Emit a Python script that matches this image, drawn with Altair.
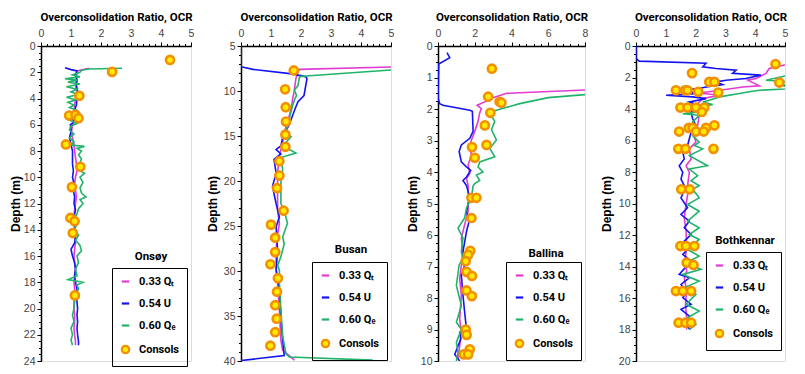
import altair as alt
import pandas as pd

SERIES = ["0.33 Qₜ", "0.54 U", "0.60 Qₑ", "Consols"]
COLORS = ["#E23CD4", "#1414F0", "#20B36A", "#F29000"]

# ---------------- Onsøy ----------------
onsoy_qt_depth = [1.7, 1.9, 2.5, 3.0, 3.5, 4.0, 4.5, 5.0, 5.5, 6.0, 6.5, 7.0, 7.5, 8.0, 8.5, 9.0, 9.5, 10.0, 10.5, 11.0, 11.5, 12.0, 12.5, 13.0, 13.5, 14.0, 14.5, 15.0, 15.5, 16.0, 16.5, 17.0, 17.5, 18.0, 18.5, 19.0, 19.5, 20.0, 20.5, 21.0, 21.5, 22.0, 22.5, 22.8]
onsoy_qt_ocr = [1.6, 1.2, 1.18, 1.15, 1.2, 1.15, 1.12, 1.1, 1.12, 1.05, 1.02, 1.05, 1.1, 1.12, 1.15, 1.18, 1.2, 1.15, 1.12, 1.15, 1.18, 1.15, 1.12, 1.1, 1.12, 1.1, 1.12, 1.15, 1.12, 1.1, 1.12, 1.15, 1.12, 1.1, 1.12, 1.15, 1.12, 1.1, 1.12, 1.12, 1.1, 1.12, 1.15, 1.15]
onsoy_u_depth = [1.65, 1.8, 1.9, 2.2, 2.6, 3.0, 3.5, 4.0, 4.5, 5.0, 5.5, 5.8, 6.0, 6.5, 7.0, 7.5, 8.0, 8.5, 9.0, 9.5, 10.0, 10.5, 11.0, 11.5, 12.0, 12.5, 13.0, 13.5, 14.0, 14.5, 15.0, 15.5, 16.0, 16.5, 17.0, 17.5, 18.0, 18.5, 19.0, 19.5, 20.0, 20.5, 21.0, 21.5, 22.0, 22.5, 22.8]
onsoy_u_ocr = [0.8, 1.0, 1.2, 1.15, 1.2, 1.18, 1.22, 1.2, 1.18, 1.1, 1.05, 1.1, 0.98, 1.0, 0.95, 1.0, 1.05, 1.05, 1.05, 1.08, 1.05, 1.1, 1.08, 1.12, 1.1, 1.15, 1.1, 1.15, 1.12, 1.15, 1.12, 1.0, 1.05, 1.12, 1.15, 1.12, 1.15, 1.2, 1.18, 1.2, 1.22, 1.2, 1.22, 1.2, 1.22, 1.25, 1.25]
onsoy_qe_depth = [1.7, 1.75, 1.85, 2.0, 2.2, 2.35, 2.5, 2.6, 2.75, 2.9, 3.1, 3.3, 3.5, 3.7, 3.9, 4.1, 4.3, 4.5, 4.7, 4.9, 5.1, 5.3, 5.6, 5.9, 6.1, 6.4, 6.7, 7.0, 7.3, 7.55, 7.65, 7.8, 8.0, 8.3, 8.6, 8.9, 9.2, 9.5, 9.7, 10.0, 10.4, 10.8, 11.2, 11.5, 11.7, 12.0, 12.4, 12.8, 13.2, 13.6, 14.0, 14.4, 14.8, 15.2, 15.6, 16.0, 16.5, 17.0, 17.5, 17.8, 18.0, 18.2, 18.5, 19.0, 19.5, 20.0, 20.5, 21.0, 21.5, 22.0, 22.4, 22.8]
onsoy_qe_ocr = [2.7, 1.6, 1.35, 1.3, 1.05, 1.3, 0.8, 1.2, 0.9, 1.3, 0.85, 1.2, 1.0, 1.25, 0.85, 1.15, 0.9, 1.1, 0.95, 1.2, 1.0, 1.15, 0.9, 1.2, 1.0, 0.95, 1.1, 0.95, 1.1, 1.0, 1.45, 1.2, 1.35, 1.25, 1.35, 1.3, 1.4, 1.3, 1.45, 1.3, 1.4, 1.3, 1.35, 1.5, 1.3, 1.4, 1.25, 1.2, 1.1, 1.2, 1.1, 1.25, 1.15, 1.3, 1.35, 1.2, 1.25, 1.15, 1.2, 0.9, 1.4, 1.2, 1.25, 1.15, 1.1, 1.1, 1.05, 1.1, 1.0, 1.05, 1.0, 1.05]
onsoy_cons_depth = [1.06, 1.97, 3.79, 5.3, 5.25, 5.5, 7.5, 9.2, 10.75, 13.1, 13.35, 14.25, 19.0]
onsoy_cons_ocr = [4.3, 2.37, 1.28, 0.94, 1.15, 1.25, 0.83, 1.31, 1.03, 0.98, 1.12, 1.06, 1.13]

# ---------------- Busan ----------------
busan_qt_depth = [7.3, 7.6, 7.9, 8.6, 9.9, 10.9, 12.0, 13.5, 14.6, 15.7, 17.2, 19.1, 21.0, 23.3, 24.7, 25.9, 27.7, 29.6, 31.4, 34.4, 37.7, 38.8, 39.9]
busan_qt_ocr = [5.3, 1.95, 1.9, 1.83, 1.78, 1.72, 1.67, 1.55, 1.44, 1.39, 1.28, 1.22, 1.22, 1.22, 1.28, 1.22, 1.17, 1.17, 1.22, 1.28, 1.33, 1.39, 1.78]
busan_u_depth = [5.0, 7.3, 7.6, 8.1, 8.4, 8.6, 10.5, 11.2, 12.0, 13.8, 15.0, 16.1, 16.5, 17.0, 17.6, 19.1, 20.6, 22.5, 24.0, 25.1, 27.7, 29.9, 32.1, 35.1, 37.7, 39.4, 39.95]
busan_u_ocr = [0.0, 0.0, 0.4, 1.7, 2.15, 2.2, 2.1, 1.9, 1.8, 1.6, 1.4, 1.33, 1.17, 1.33, 1.1, 1.17, 1.05, 1.17, 1.28, 1.17, 1.22, 1.17, 1.28, 1.33, 1.39, 1.44, 0.0]
busan_qe_depth = [7.6, 8.3, 8.4, 9.4, 9.9, 10.5, 11.0, 11.6, 13.1, 14.6, 15.1, 15.7, 16.5, 16.9, 17.4, 18.7, 20.2, 21.8, 22.5, 23.3, 24.7, 26.2, 27.0, 28.4, 29.4, 29.9, 31.4, 34.4, 37.3, 39.2, 39.55, 39.9]
busan_qe_ocr = [5.3, 2.28, 1.95, 1.9, 1.78, 1.85, 1.78, 1.72, 1.61, 1.5, 1.67, 1.5, 1.61, 1.83, 1.33, 1.39, 1.33, 1.33, 1.33, 1.44, 1.55, 1.39, 1.44, 1.33, 1.22, 1.28, 1.28, 1.33, 1.39, 1.5, 1.61, 4.39]
busan_cons_depth = [7.72, 9.81, 11.8, 13.4, 14.85, 16.2, 17.8, 19.4, 20.8, 23.3, 24.85, 26.3, 27.9, 29.25, 30.8, 32.3, 33.8, 35.3, 36.8, 38.3]
busan_cons_ocr = [1.76, 1.47, 1.49, 1.5, 1.48, 1.48, 1.28, 1.28, 1.2, 1.42, 1.0, 1.14, 1.14, 0.98, 1.23, 1.2, 1.14, 1.19, 1.14, 0.98]

# ---------------- Ballina ----------------
ballina_qt_depth = [1.39, 1.5, 1.64, 1.75, 1.88, 1.99, 2.12, 2.39, 2.71, 2.98, 3.19, 3.46, 3.78, 4.05, 4.21, 4.43, 4.7, 5.25, 5.67, 6.1, 6.53, 6.96, 7.38, 7.92, 8.67, 9.09, 9.52, 9.95]
ballina_qt_ocr = [8.3, 3.73, 3.0, 2.64, 2.13, 2.36, 2.27, 2.18, 2.0, 1.82, 1.73, 1.82, 1.64, 1.73, 1.55, 1.64, 1.64, 1.64, 1.45, 1.27, 1.36, 1.27, 1.18, 1.27, 1.18, 1.27, 1.18, 1.09]
ballina_u_depth = [0.21, 0.37, 0.57, 1.64, 1.83, 1.88, 2.04, 2.07, 2.71, 2.93, 3.14, 3.35, 3.68, 3.84, 3.95, 4.16, 4.27, 4.43, 4.82, 5.25, 5.57, 5.89, 6.53, 6.96, 7.28, 7.92, 8.45, 8.99, 9.09, 9.3, 9.79, 10.0]
ballina_u_ocr = [0.49, 0.64, 0.04, 0.0, 0.09, 0.27, 1.73, 1.87, 1.91, 1.73, 1.27, 1.15, 1.27, 1.55, 1.78, 1.55, 1.36, 1.55, 1.73, 1.55, 1.69, 1.55, 1.36, 1.45, 1.27, 1.36, 1.45, 1.55, 1.18, 1.24, 0.91, 1.18]
ballina_qe_depth = [1.53, 1.59, 1.64, 1.83, 2.01, 2.07, 2.23, 2.39, 2.66, 2.98, 3.25, 3.52, 3.68, 3.84, 4.0, 4.1, 4.27, 4.37, 4.44, 4.82, 5.14, 5.46, 5.78, 6.1, 6.53, 6.74, 6.95, 7.6, 8.24, 8.77, 8.99, 9.41, 9.73, 10.0]
ballina_qe_ocr = [8.3, 7.0, 6.0, 4.45, 3.36, 3.0, 2.91, 3.09, 2.91, 3.18, 2.82, 3.09, 2.27, 2.18, 2.45, 2.09, 2.27, 2.0, 1.91, 1.82, 1.55, 1.45, 1.09, 1.36, 1.27, 1.36, 1.15, 1.0, 1.27, 1.0, 1.27, 1.0, 1.09, 1.0]
ballina_cons_depth = [0.72, 1.61, 1.77, 1.8, 2.12, 2.52, 3.14, 3.21, 3.55, 4.82, 4.82, 5.46, 6.5, 6.63, 6.83, 7.17, 7.3, 7.76, 7.94, 9.0, 9.17, 9.63, 9.79, 9.79]
ballina_cons_ocr = [2.93, 2.73, 3.35, 3.45, 2.85, 2.55, 2.64, 1.85, 2.0, 1.82, 2.09, 1.82, 1.76, 1.64, 1.51, 1.55, 1.85, 1.55, 1.84, 1.51, 1.56, 1.73, 1.4, 1.64]

# ---------------- Bothkennar ----------------
bk_qt_depth = [1.1, 1.21, 1.43, 1.74, 2.06, 2.17, 2.53, 2.6, 2.7, 2.87, 2.98, 3.13, 3.34, 3.77, 4.4, 5.04, 5.47, 6.1, 6.53, 7.17, 7.6, 8.02, 8.87, 9.0, 10.06, 10.9, 11.75, 12.6, 13.45, 14.3, 14.7, 15.56, 16.4, 17.25, 18.0]
bk_qt_ocr = [5.3, 4.98, 4.47, 4.36, 4.03, 3.75, 4.14, 3.58, 3.24, 2.57, 2.12, 2.8, 2.24, 2.01, 2.12, 2.07, 1.9, 2.01, 1.79, 1.85, 1.68, 1.79, 1.73, 1.77, 1.68, 1.62, 1.68, 1.7, 1.66, 1.7, 1.62, 1.7, 1.66, 1.7, 1.7]
bk_u_depth = [0.0, 0.8, 0.96, 1.1, 1.32, 1.43, 1.53, 1.74, 1.85, 2.06, 2.17, 2.28, 2.45, 2.6, 2.7, 2.81, 3.02, 3.13, 3.23, 3.34, 3.55, 3.77, 4.19, 4.62, 5.04, 5.47, 5.89, 6.32, 6.74, 7.17, 7.6, 8.02, 8.45, 8.87, 9.0, 9.64, 10.27, 10.7, 11.12, 11.54, 11.97, 12.39, 12.8, 13.23, 13.66, 14.5, 14.71, 15.14, 15.56, 15.98, 16.4, 16.72, 17.15, 17.57, 18.0]
bk_u_ocr = [0.0, 0.0, 0.11, 2.35, 2.24, 2.68, 3.36, 3.24, 4.19, 3.69, 3.02, 2.68, 2.91, 2.35, 2.12, 1.45, 2.12, 1.01, 1.9, 2.35, 1.79, 2.12, 1.85, 1.9, 2.01, 1.85, 1.79, 1.73, 1.57, 1.62, 1.45, 1.57, 1.51, 1.62, 1.66, 1.51, 1.73, 1.51, 1.79, 1.62, 1.85, 1.62, 1.79, 1.57, 1.85, 1.45, 1.79, 1.51, 1.73, 1.57, 1.85, 1.51, 1.79, 1.62, 1.81]
bk_qe_depth = [1.5, 1.9, 2.17, 2.3, 2.5, 2.7, 2.81, 2.91, 3.02, 3.23, 3.45, 3.55, 3.72, 3.81, 3.98, 4.19, 4.3, 4.4, 4.83, 5.26, 5.68, 6.1, 6.32, 6.53, 6.96, 7.6, 7.81, 8.23, 8.55, 8.87, 9.1, 9.64, 10.06, 10.49, 11.12, 11.54, 11.97, 12.28, 12.92, 13.34, 13.76, 14.18, 14.5, 14.93, 15.35, 15.77, 16.4, 16.83, 17.25, 17.67, 18.0]
bk_qe_ocr = [5.3, 5.0, 4.36, 5.3, 4.9, 5.3, 4.14, 3.8, 3.47, 2.8, 2.46, 2.24, 2.57, 2.24, 2.35, 2.12, 1.57, 2.12, 1.9, 2.12, 1.9, 2.12, 1.96, 2.24, 1.79, 2.4, 1.79, 2.07, 1.85, 2.12, 1.9, 2.12, 1.73, 2.12, 1.73, 2.12, 1.79, 2.12, 1.73, 2.12, 1.68, 2.18, 1.57, 2.12, 1.62, 2.01, 1.68, 2.12, 1.73, 2.01, 1.79]
bk_cons_depth = [1.15, 2.32, 1.72, 2.28, 2.28, 2.96, 2.81, 2.81, 2.81, 2.91, 3.91, 3.91, 3.91, 3.91, 4.19, 5.04, 5.2, 5.2, 5.2, 5.43, 5.43, 5.43, 6.53, 6.53, 6.53, 9.1, 9.1, 12.7, 12.7, 12.7, 13.76, 13.9, 15.56, 15.56, 15.56, 17.57, 17.57, 17.57]
bk_cons_ocr = [4.68, 4.81, 1.88, 2.46, 2.63, 2.76, 1.34, 1.64, 1.73, 2.09, 1.49, 1.73, 2.01, 2.29, 2.21, 2.63, 2.35, 1.77, 1.9, 2.01, 2.27, 1.45, 1.42, 1.66, 2.6, 1.52, 1.8, 1.49, 1.68, 1.96, 1.7, 1.93, 1.34, 1.57, 1.85, 1.43, 1.66, 1.85]

TITLE_FONT = "Roboto, Liberation Sans, sans-serif"
LABEL_FONT = "Liberation Sans, Arial, sans-serif"
H = 315


def steps(lo, hi, step):
    n = int(round((hi - lo) / step))
    return [round(lo + i * step, 3) for i in range(n + 1)]


def panel(site, lines, cons, xdom, xmajor, xminor, ydom, ymajor, yminor, leg_xy, name_xy, width, yext):
    rows = []
    for s, (d, o) in zip(SERIES[:3], lines):
        for i, (dd, oo) in enumerate(zip(d, o)):
            rows.append({"series": s, "depth": dd, "ocr": oo, "i": i})
    df = pd.DataFrame(rows)
    pts = pd.DataFrame({"series": "Consols", "depth": cons[0], "ocr": cons[1]})

    xscale = alt.Scale(domain=xdom, nice=False, zero=False)
    yscale = alt.Scale(domain=ydom, reverse=True, nice=False, zero=False)
    legend = alt.Legend(
        title=None, orient="none", legendX=leg_xy[0], legendY=leg_xy[1],
        strokeColor="black", padding=8, rowPadding=10,
        labelFont=TITLE_FONT, labelFontSize=11, labelFontWeight="bold",
        labelColor="black", labelOffset=8, labelLimit=0,
        symbolSize=55, symbolStrokeWidth=2.2,
    )
    color = alt.Color("series:N", scale=alt.Scale(domain=SERIES, range=COLORS), legend=legend)

    main_x = alt.Axis(
        orient="top", values=xmajor, title="Overconsolidation Ratio, OCR",
        titleFont=TITLE_FONT, titleFontSize=11.5, titleFontWeight="bold", titleColor="black",
        titlePadding=6, labelFont=LABEL_FONT, labelFontSize=10.5, labelColor="#444",
        labelPadding=4, labelFlush=False, labelOverlap=False, tickSize=4, tickColor="black",
        domainColor="black", domainWidth=1.5, grid=False, minExtent=18, maxExtent=18,
    )
    main_y = alt.Axis(
        orient="left", values=ymajor, title="Depth (m)",
        titleFont=LABEL_FONT, titleFontSize=12, titleFontWeight="bold", titleColor="black",
        titlePadding=1, labelFont=LABEL_FONT, labelFontSize=10.5, labelColor="#444",
        labelPadding=2, labelFlush=False, labelOverlap=False, tickSize=4, tickColor="black",
        domainColor="black", domainWidth=1.5, grid=False, minExtent=yext, maxExtent=yext,
    )
    minor_x = alt.Axis(orient="top", values=xminor, labels=False, title=None, domain=False,
                       tickSize=2.5, tickColor="black", grid=False, minExtent=0, maxExtent=3)
    minor_y = alt.Axis(orient="left", values=yminor, labels=False, title=None, domain=False,
                       tickSize=2.5, tickColor="black", grid=False, minExtent=0, maxExtent=3)

    line_layer = alt.Chart(df).mark_line(clip=True, strokeWidth=1.6).encode(
        x=alt.X("ocr:Q", scale=xscale, axis=main_x),
        y=alt.Y("depth:Q", scale=yscale, axis=main_y),
        color=color,
        order=alt.Order("i:Q"),
    )
    pt_layer = alt.Chart(pts).mark_point(
        filled=False, fill="#FFEA00", size=66, strokeWidth=2.6, opacity=1, clip=True
    ).encode(
        x=alt.X("ocr:Q", scale=xscale, axis=minor_x),
        y=alt.Y("depth:Q", scale=yscale, axis=minor_y),
        color=color,
        shape=alt.Shape("series:N", scale=alt.Scale(domain=SERIES, range=["stroke", "stroke", "stroke", "circle"]), legend=legend),
    )
    name_layer = alt.Chart(pd.DataFrame({"site": [site]})).mark_text(
        font=TITLE_FONT, fontSize=11.5, fontWeight="bold", color="black", align="center", baseline="middle"
    ).encode(x=alt.value(name_xy[0]), y=alt.value(name_xy[1]), text="site:N")

    return alt.layer(line_layer, pt_layer, name_layer).resolve_axis(
        x="independent", y="independent"
    ).properties(width=width, height=H)


p1 = panel("Onsøy",
           [(onsoy_qt_depth, onsoy_qt_ocr), (onsoy_u_depth, onsoy_u_ocr), (onsoy_qe_depth, onsoy_qe_ocr)],
           (onsoy_cons_depth, onsoy_cons_ocr),
           [0, 5], steps(0, 5, 1), steps(0, 5, 0.2), [0, 24], steps(0, 24, 2), steps(0, 24, 0.5),
           (71, 222), (110, 211), 150, 18)
p2 = panel("Busan",
           [(busan_qt_depth, busan_qt_ocr), (busan_u_depth, busan_u_ocr), (busan_qe_depth, busan_qe_ocr)],
           (busan_cons_depth, busan_cons_ocr),
           [0, 5], steps(0, 5, 1), steps(0, 5, 0.2), [5, 40], steps(5, 40, 5), steps(5, 40, 1),
           (71, 216), (110, 204), 150, 21)
p3 = panel("Ballina",
           [(ballina_qt_depth, ballina_qt_ocr), (ballina_u_depth, ballina_u_ocr), (ballina_qe_depth, ballina_qe_ocr)],
           (ballina_cons_depth, ballina_cons_ocr),
           [0, 8], steps(0, 8, 2), steps(0, 8, 0.4), [0, 10], steps(0, 10, 1), steps(0, 10, 0.25),
           (68, 216), (108, 208), 147, 18)
p4 = panel("Bothkennar",
           [(bk_qt_depth, bk_qt_ocr), (bk_u_depth, bk_u_ocr), (bk_qe_depth, bk_qe_ocr)],
           (bk_cons_depth, bk_cons_ocr),
           [0, 5], steps(0, 5, 1), steps(0, 5, 0.2), [0, 20], steps(0, 20, 2), steps(0, 20, 0.5),
           (70, 206), (109, 195), 149, 22)

chart = alt.hconcat(p1, p2, p3, p4, spacing=10).resolve_legend(
    color="independent", shape="independent"
).properties(
    padding={"left": 0, "top": 2, "right": 0, "bottom": 0}
).configure_view(
    stroke="black", strokeWidth=1.5
).configure(background="white")

chart.save("out.html", embed_options={"renderer": "svg", "actions": False})
